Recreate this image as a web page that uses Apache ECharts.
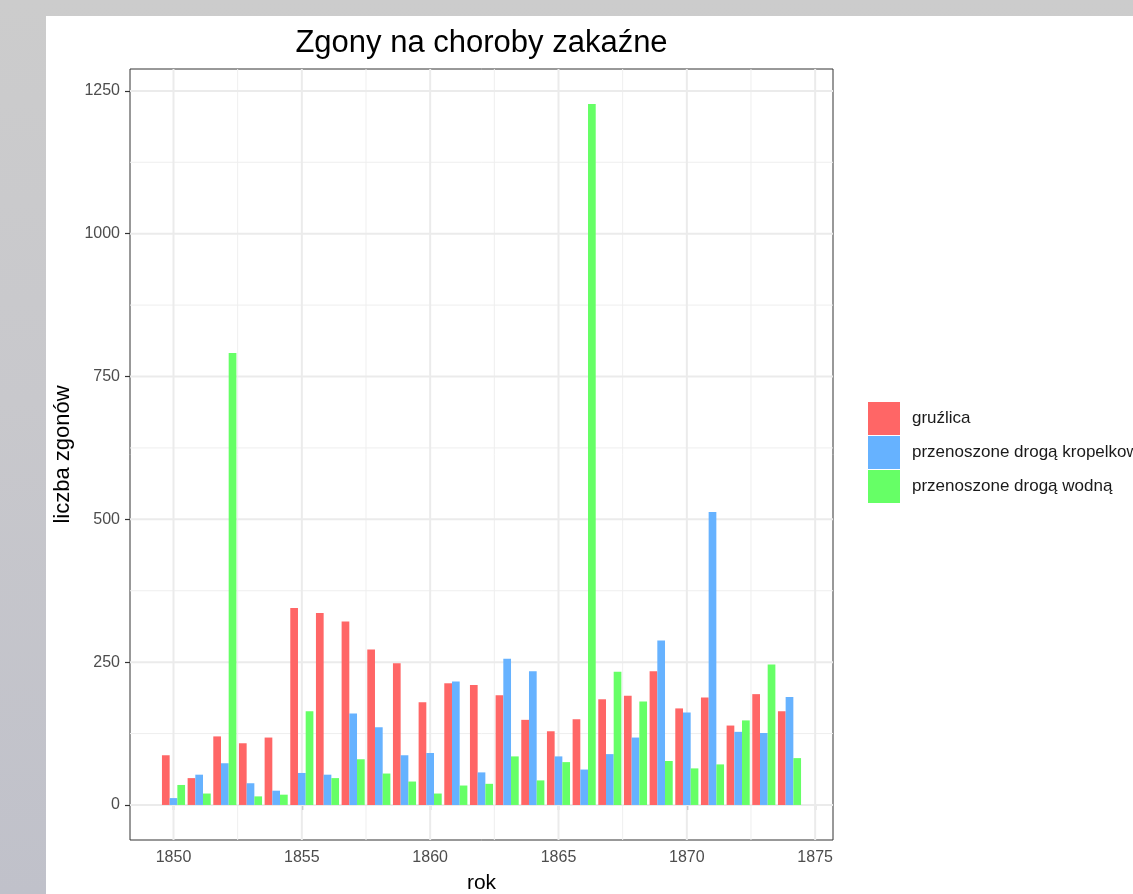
<!DOCTYPE html>
<html>
<head>
<meta charset="utf-8">
<script src="https://cdn.jsdelivr.net/npm/echarts@6/dist/echarts.min.js"></script>
<style>
html,body{margin:0;padding:0;width:1133px;height:894px;overflow:hidden;}
body{background:linear-gradient(to bottom,#cccccc 0%,#c8c8cc 45%,#c0c1ca 100%);position:relative;}
#chart{position:absolute;left:46px;top:16px;width:1087px;height:878px;background:#ffffff;}
</style>
</head>
<body>
<div id="chart"></div>
<script>
const titleText = 'Zgony na choroby zakaźne';
const xAxisTitle = 'rok';
const yAxisTitle = 'liczba zgonów';
const seriesNames = ['gruźlica', 'przenoszone drogą kropelkową', 'przenoszone drogą wodną'];
const seriesColors = ['#FF6666', '#66B2FF', '#66FF66'];

const years = [1850,1851,1852,1853,1854,1855,1856,1857,1858,1859,1860,1861,1862,1863,1864,1865,1866,1867,1868,1869,1870,1871,1872,1873,1874];
const gruzlica =   [87, 47,120,108,118,345,336,321,272,248,180,213,210,192,149,129,150,185,191,234,169,188,139,194,164];
const kropelkowa = [12, 53, 73, 38, 25, 56, 53,160,136, 87, 91,216, 57,256,234, 85, 62, 89,118,288,162,513,128,126,189];
const wodna =      [35, 20,791, 15, 18,164, 47, 80, 55, 41, 20, 34, 37, 85, 43, 75,1227,233,181, 77, 64, 71,148,246, 82];

const xTicks = [1850,1855,1860,1865,1870,1875];
const xMinorTicks = [1852.5,1857.5,1862.5,1867.5,1872.5];
const yTicks = [0,250,500,750,1000,1250];
const yMinorTicks = [125,375,625,875,1125];

const FONT = '"Liberation Sans", Arial, Helvetica, sans-serif';
const groupWidth = 0.9;
const allSeries = [gruzlica, kropelkowa, wodna];

// ggplot-like 5% expansion
const allVals = allSeries.flat();
const yLo = Math.min(0, ...allVals), yHi = Math.max(...allVals);
const yMin = yLo - 0.05 * (yHi - yLo), yMax = yHi + 0.05 * (yHi - yLo);
const xLo = years[0] - groupWidth / 2, xHi = years[years.length - 1] + groupWidth / 2;
const xMin = xLo - 0.05 * (xHi - xLo), xMax = xHi + 0.05 * (xHi - xLo);

function gridSeries(values, dir, width, color) {
  return {
    type: 'custom', coordinateSystem: 'cartesian2d', silent: true, z: 1,
    data: values.map(v => [dir === 'x' ? v : xMin, dir === 'y' ? v : yMin]),
    renderItem: (params, api) => {
      let p0, p1;
      if (dir === 'x') { const v = api.value(0); p0 = api.coord([v, yMin]); p1 = api.coord([v, yMax]); }
      else { const v = api.value(1); p0 = api.coord([xMin, v]); p1 = api.coord([xMax, v]); }
      return { type: 'line', shape: { x1: p0[0], y1: p0[1], x2: p1[0], y2: p1[1] }, style: { stroke: color, lineWidth: width } };
    }
  };
}

function barSeries(k) {
  const n = allSeries.length, w = groupWidth / n;
  return {
    type: 'custom', name: seriesNames[k], coordinateSystem: 'cartesian2d', z: 3,
    itemStyle: { color: seriesColors[k] },
    data: years.map((y, i) => [y, allSeries[k][i]]),
    encode: { x: 0, y: 1 },
    renderItem: (params, api) => {
      const yr = api.value(0), v = api.value(1);
      const x0 = yr - groupWidth / 2 + k * w, x1 = x0 + w;
      const p0 = api.coord([x0, v]), p1 = api.coord([x1, 0]);
      return { type: 'rect', shape: { x: p0[0], y: p0[1], width: p1[0] - p0[0], height: p1[1] - p0[1] }, style: { fill: seriesColors[k] } };
    }
  };
}

const chart = echarts.init(document.getElementById('chart'), null, { renderer: 'canvas' });
chart.setOption({
  animation: false,
  backgroundColor: '#ffffff',
  graphic: [{
    type: 'text', x: 435.5, y: 27,
    style: { text: titleText, font: '31px ' + FONT, fill: '#000000', textAlign: 'center', textVerticalAlign: 'middle' }
  }],
  grid: { left: 84, top: 53, right: 300, bottom: 54, outerBoundsMode: 'none', containLabel: false, show: true, borderColor: '#333333', borderWidth: 1, backgroundColor: 'transparent' },
  legend: {
    orient: 'vertical', left: 822, top: 386, padding: 0,
    data: seriesNames, icon: 'rect', itemWidth: 32, itemHeight: 33, itemGap: 1,
    textStyle: { fontFamily: FONT, fontSize: 17, color: '#1a1a1a', padding: [0, 0, 0, 7] },
    selectedMode: false
  },
  xAxis: {
    type: 'value', min: xMin, max: xMax,
    name: xAxisTitle, nameLocation: 'middle', nameGap: 33,
    nameTextStyle: { fontFamily: FONT, fontSize: 21, color: '#000000' },
    axisLine: { show: false },
    axisTick: { show: true, length: 5, lineStyle: { color: '#333333', width: 1.2 }, customValues: xTicks },
    axisLabel: { fontFamily: FONT, fontSize: 16, color: '#4d4d4d', margin: 10, customValues: xTicks, formatter: v => String(v) },
    splitLine: { show: false }
  },
  yAxis: {
    type: 'value', min: yMin, max: yMax,
    name: yAxisTitle, nameLocation: 'middle', nameGap: 51,
    nameTextStyle: { fontFamily: FONT, fontSize: 22, color: '#000000' },
    axisLine: { show: false },
    axisTick: { show: true, length: 5, lineStyle: { color: '#333333', width: 1.2 }, customValues: yTicks },
    axisLabel: { fontFamily: FONT, fontSize: 16, color: '#4d4d4d', margin: 10, customValues: yTicks, formatter: v => String(v) },
    splitLine: { show: false }
  },
  series: [
    gridSeries(xMinorTicks, 'x', 1, '#efefef'),
    gridSeries(yMinorTicks, 'y', 1, '#efefef'),
    gridSeries(xTicks, 'x', 2, '#ebebeb'),
    gridSeries(yTicks, 'y', 2, '#ebebeb'),
    barSeries(0), barSeries(1), barSeries(2)
  ]
});
</script>
</body>
</html>
